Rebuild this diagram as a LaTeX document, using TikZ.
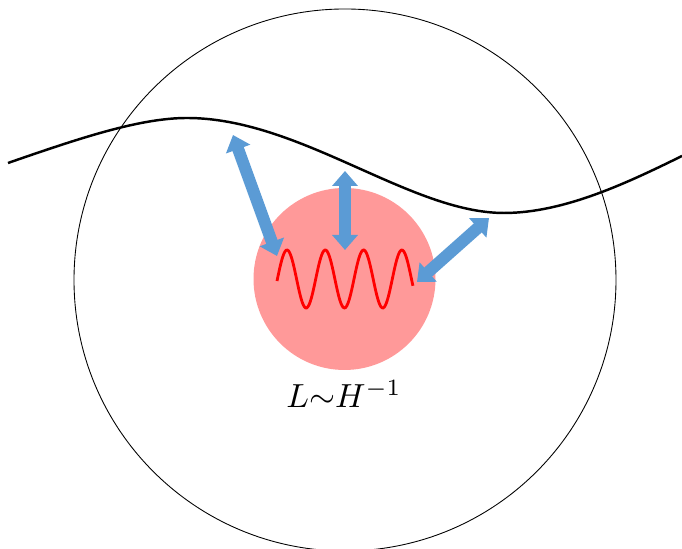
\documentclass[tikz,border=0pt]{standalone}
\usetikzlibrary{arrows.meta,positioning}
\definecolor{flowblue}{RGB}{91,155,213}
\definecolor{blobpink}{RGB}{255,153,153}
\begin{document}
\begin{tikzpicture}[
    coupling/.style={flowblue, line width=0.24cm,
        {Triangle[width=0.5cm,length=0.3cm]}-{Triangle[width=0.5cm,length=0.3cm]}},
    blob/.style={circle, fill=blobpink, minimum size=3.64cm, inner sep=0pt}
]
    \useasboundingbox (0,0) rectangle (13.64,10.98);

    % Horizon sphere (large circle)
    \draw[line width=0.5pt] (6.9,5.38) circle (5.42cm);

    % Background field - long wavelength
    \coordinate (w0) at (0.16,7.72);
    \coordinate (w1) at (3.74,8.62);
    \coordinate (w2) at (10.08,6.72);
    \coordinate (w3) at (13.64,7.86);
    \draw[line width=1.4pt] (w0) .. controls (1.6,8.22) and (2.8,8.62) .. (w1)
        .. controls (6.0,8.62) and (8.2,6.72) .. (w2)
        .. controls (11.3,6.72) and (12.6,7.35) .. (w3);

    % Small patch with short wavelength mode
    \node[blob] (patch) at (6.89,5.4) {};
    \draw[red, line width=1.6pt] plot[domain=5.54:8.26, samples=120, smooth]
        (\x, {5.4 + 0.58*cos(470*(\x-5.74))});

    % Label
    \node[anchor=base, scale=1.9] (scale) at (6.88,2.82) {$L{\sim}H^{-1}$};

    % Arrow ends
    \coordinate (a1) at (4.66,8.28);
    \coordinate (b1) at (5.54,5.86);
    \coordinate (a2) at (6.9,7.56);
    \coordinate (b2) at (6.9,5.98);
    \coordinate (a3) at (9.78,6.62);
    \coordinate (b3) at (8.34,5.34);

    % Coupling between modes
    \draw[coupling] (a1) -- (b1);
    \draw[coupling] (a2) -- (b2);
    \draw[coupling] (a3) -- (b3);
\end{tikzpicture}
\end{document}
